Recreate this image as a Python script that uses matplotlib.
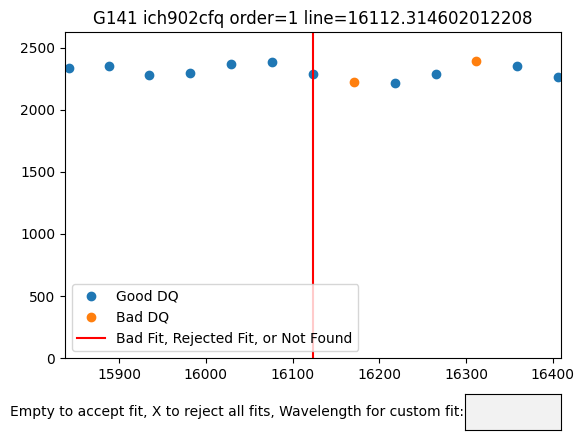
import matplotlib
matplotlib.use("Agg")
import matplotlib.pyplot as plt
from matplotlib.widgets import TextBox

good_wave = [15842, 15888.5, 15934.6, 15981.9, 16029.2, 16076.5, 16123.8, 16218.3, 16265.5, 16359, 16406]
good_flux = [2336, 2355, 2282, 2296, 2371, 2385, 2290, 2215, 2290, 2355, 2266]
bad_wave = [16170.6, 16311.7]
bad_flux = [2226, 2395]
fit_line = 16123.4
title = "G141 ich902cfq order=1 line=16112.314602012208"

fig = plt.figure(figsize=(5.86, 4.45), dpi=100)
ax = fig.add_axes([0.1109, 0.1955, 0.8464, 0.7326])
ax.plot(good_wave, good_flux, "o", color="C0", label="Good DQ")
ax.plot(bad_wave, bad_flux, "o", color="C1", label="Bad DQ")
ax.axvline(fit_line, color="r", label="Bad Fit, Rejected Fit, or Not Found")
ax.set_xlim(15837.4, 16409.6)
ax.set_ylim(0, 2629)
ax.set_title(title)
ax.legend(loc="lower left")

box_ax = fig.add_axes([0.7935, 0.0337, 0.1638, 0.0809])
box = TextBox(box_ax, "Empty to accept fit, X to reject all fits, Wavelength for custom fit:")

fig.savefig("out.png", dpi=100)
